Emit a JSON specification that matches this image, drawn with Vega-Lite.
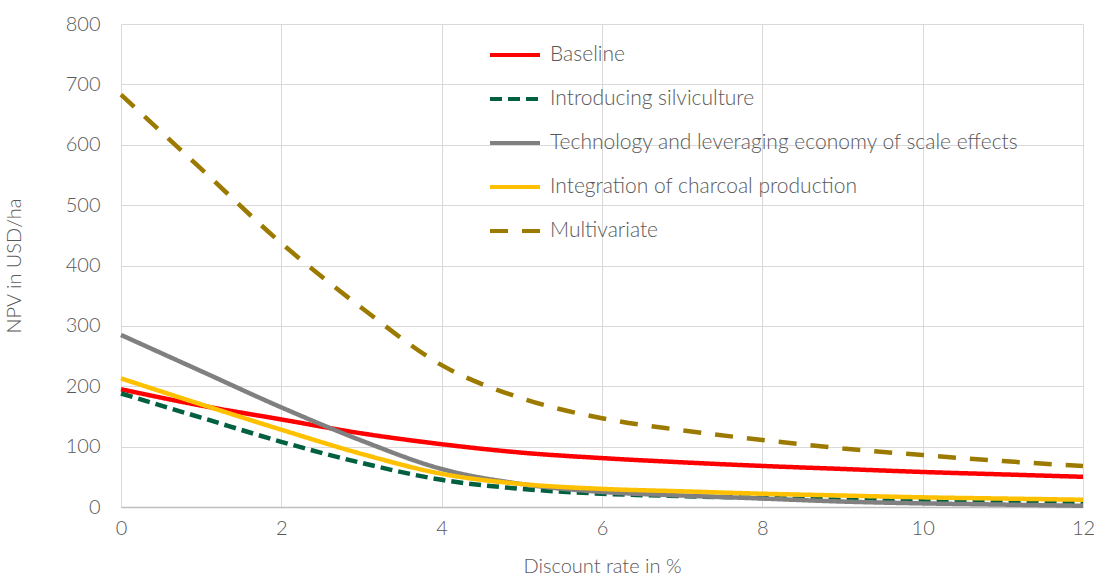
{
  "$schema": "https://vega.github.io/schema/vega-lite/v6.json",
  "width": 962,
  "height": 483,
  "autosize": {"type": "none"},
  "padding": {"left": 121, "top": 24, "right": 13, "bottom": 69},
  "background": "white",
  "config": {
    "font": "Lato",
    "view": {"stroke": null},
    "axis": {"labelFont": "Lato", "titleFont": "Lato", "labelColor": "#595959", "titleColor": "#595959", "labelFontSize": 20, "titleFontSize": 20, "labelFontWeight": 300, "titleFontWeight": 300, "gridColor": "#D9D9D9", "gridWidth": 1, "ticks": false}
  },
  "data": {
    "values": [
      {"rate": 0, "scenario": "Baseline", "npv": 195},
      {"rate": 1, "scenario": "Baseline", "npv": 168},
      {"rate": 2, "scenario": "Baseline", "npv": 145},
      {"rate": 3, "scenario": "Baseline", "npv": 122},
      {"rate": 4, "scenario": "Baseline", "npv": 104},
      {"rate": 5, "scenario": "Baseline", "npv": 90},
      {"rate": 6, "scenario": "Baseline", "npv": 81},
      {"rate": 7, "scenario": "Baseline", "npv": 74},
      {"rate": 8, "scenario": "Baseline", "npv": 68},
      {"rate": 9, "scenario": "Baseline", "npv": 63},
      {"rate": 10, "scenario": "Baseline", "npv": 58},
      {"rate": 11, "scenario": "Baseline", "npv": 54},
      {"rate": 12, "scenario": "Baseline", "npv": 50},
      {"rate": 0, "scenario": "Introducing silviculture", "npv": 188},
      {"rate": 1, "scenario": "Introducing silviculture", "npv": 148},
      {"rate": 2, "scenario": "Introducing silviculture", "npv": 108},
      {"rate": 3, "scenario": "Introducing silviculture", "npv": 73},
      {"rate": 4, "scenario": "Introducing silviculture", "npv": 45},
      {"rate": 5, "scenario": "Introducing silviculture", "npv": 30},
      {"rate": 6, "scenario": "Introducing silviculture", "npv": 22},
      {"rate": 7, "scenario": "Introducing silviculture", "npv": 18},
      {"rate": 8, "scenario": "Introducing silviculture", "npv": 15},
      {"rate": 9, "scenario": "Introducing silviculture", "npv": 12},
      {"rate": 10, "scenario": "Introducing silviculture", "npv": 10},
      {"rate": 11, "scenario": "Introducing silviculture", "npv": 8},
      {"rate": 12, "scenario": "Introducing silviculture", "npv": 6},
      {"rate": 0, "scenario": "Technology and leveraging economy of scale effects", "npv": 285},
      {"rate": 1, "scenario": "Technology and leveraging economy of scale effects", "npv": 225},
      {"rate": 2, "scenario": "Technology and leveraging economy of scale effects", "npv": 165},
      {"rate": 3, "scenario": "Technology and leveraging economy of scale effects", "npv": 110},
      {"rate": 4, "scenario": "Technology and leveraging economy of scale effects", "npv": 63},
      {"rate": 5, "scenario": "Technology and leveraging economy of scale effects", "npv": 38},
      {"rate": 6, "scenario": "Technology and leveraging economy of scale effects", "npv": 25},
      {"rate": 7, "scenario": "Technology and leveraging economy of scale effects", "npv": 19},
      {"rate": 8, "scenario": "Technology and leveraging economy of scale effects", "npv": 14},
      {"rate": 9, "scenario": "Technology and leveraging economy of scale effects", "npv": 9},
      {"rate": 10, "scenario": "Technology and leveraging economy of scale effects", "npv": 6},
      {"rate": 11, "scenario": "Technology and leveraging economy of scale effects", "npv": 4},
      {"rate": 12, "scenario": "Technology and leveraging economy of scale effects", "npv": 2},
      {"rate": 0, "scenario": "Integration of charcoal production", "npv": 213},
      {"rate": 1, "scenario": "Integration of charcoal production", "npv": 170},
      {"rate": 2, "scenario": "Integration of charcoal production", "npv": 128},
      {"rate": 3, "scenario": "Integration of charcoal production", "npv": 88},
      {"rate": 4, "scenario": "Integration of charcoal production", "npv": 55},
      {"rate": 5, "scenario": "Integration of charcoal production", "npv": 38},
      {"rate": 6, "scenario": "Integration of charcoal production", "npv": 30},
      {"rate": 7, "scenario": "Integration of charcoal production", "npv": 26},
      {"rate": 8, "scenario": "Integration of charcoal production", "npv": 22},
      {"rate": 9, "scenario": "Integration of charcoal production", "npv": 19},
      {"rate": 10, "scenario": "Integration of charcoal production", "npv": 16},
      {"rate": 11, "scenario": "Integration of charcoal production", "npv": 14},
      {"rate": 12, "scenario": "Integration of charcoal production", "npv": 12},
      {"rate": 0, "scenario": "Multivariate", "npv": 683},
      {"rate": 1, "scenario": "Multivariate", "npv": 560},
      {"rate": 2, "scenario": "Multivariate", "npv": 437},
      {"rate": 3, "scenario": "Multivariate", "npv": 330},
      {"rate": 4, "scenario": "Multivariate", "npv": 235},
      {"rate": 5, "scenario": "Multivariate", "npv": 180},
      {"rate": 6, "scenario": "Multivariate", "npv": 147},
      {"rate": 7, "scenario": "Multivariate", "npv": 127},
      {"rate": 8, "scenario": "Multivariate", "npv": 111},
      {"rate": 9, "scenario": "Multivariate", "npv": 97},
      {"rate": 10, "scenario": "Multivariate", "npv": 86},
      {"rate": 11, "scenario": "Multivariate", "npv": 76},
      {"rate": 12, "scenario": "Multivariate", "npv": 68}
    ]
  },
  "mark": {"type": "line", "interpolate": "monotone", "strokeWidth": 4.5, "strokeCap": "butt"},
  "encoding": {
    "x": {
      "field": "rate", "type": "quantitative", "title": "Discount rate in %",
      "scale": {"domain": [0, 12], "nice": false},
      "axis": {"values": [0, 2, 4, 6, 8, 10, 12], "labelPadding": 11, "titlePadding": 18, "domainColor": "#BFBFBF", "domainWidth": 1.5, "labelFlush": false}
    },
    "y": {
      "field": "npv", "type": "quantitative", "title": "NPV in USD/ha",
      "scale": {"domain": [0, 800], "nice": false},
      "axis": {"values": [0, 100, 200, 300, 400, 500, 600, 700, 800], "labelPadding": 21, "titlePadding": 41, "domain": false}
    },
    "color": {
      "field": "scenario", "type": "nominal", "title": null,
      "scale": {
        "domain": ["Baseline", "Introducing silviculture", "Technology and leveraging economy of scale effects", "Integration of charcoal production", "Multivariate"],
        "range": ["#FF0000", "#006040", "#808080", "#FFC000", "#9C7A00"]
      },
      "legend": {
        "orient": "none", "legendX": 367, "legendY": 4,
        "symbolType": "stroke", "symbolSize": 2500, "symbolStrokeWidth": 4,
        "labelFont": "Lato", "labelFontSize": 21, "labelFontWeight": 300, "labelColor": "#595959",
        "labelOffset": 8, "rowPadding": 7, "labelLimit": 600
      }
    },
    "strokeDash": {
      "field": "scenario", "type": "nominal",
      "scale": {
        "domain": ["Baseline", "Introducing silviculture", "Technology and leveraging economy of scale effects", "Integration of charcoal production", "Multivariate"],
        "range": [[1, 0], [12, 6], [1, 0], [1, 0], [18, 14]]
      }
    }
  }
}
